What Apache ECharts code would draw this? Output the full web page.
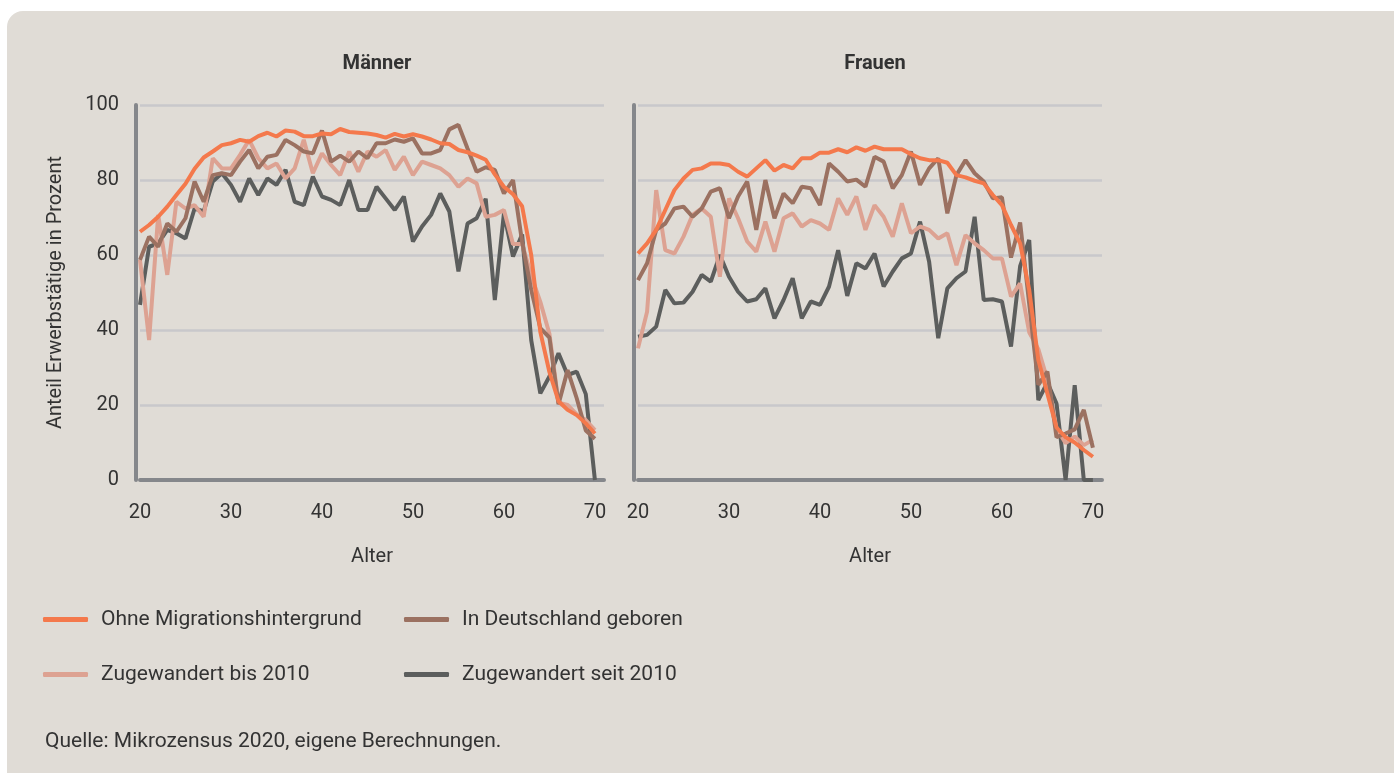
<!DOCTYPE html>
<html>
<head>
<meta charset="utf-8">
<script src="https://cdn.jsdelivr.net/npm/echarts@6/dist/echarts.min.js"></script>
<style>
	html, body { margin: 0; padding: 0; background: #ffffff; overflow: hidden; }
	#card { position: absolute; left: 7px; top: 11px; width: 1420px; height: 800px; background: #e0dcd6; border-radius: 16px; }
	#main { position: absolute; left: 0; top: 0; width: 1394px; height: 773px; }
</style>
</head>
<body>
<div id="card"></div>
<div id="main"></div>
<script>
	// Alter 20 .. 70
	var ages = [];
	for (var a = 20; a <= 70; a++) ages.push(a);
	var xTicks = [20, 30, 40, 50, 60, 70];
	var yTicks = [0, 20, 40, 60, 80, 100];

	// Männer
	var ohneM = [66.2, 68, 70.2, 72.9, 76, 79, 83, 86, 87.6, 89.3, 89.8, 90.7, 90.2, 91.7, 92.6, 91.6, 93.2, 92.9, 91.7, 91.7,
		92.4, 92.2, 93.6, 92.8, 92.6, 92.4, 92, 91.3, 92.3, 91.6, 92.2, 91.6, 90.8, 89.8, 89.6, 88, 87.4, 86.5, 85.4, 81.5,
		78.2, 76.2, 73, 60, 39.5, 28.8, 21, 18.7, 17.3, 15.1, 12.4];
	var deM = [58.7, 64.9, 62.2, 68.4, 66.2, 69.8, 79.6, 74.2, 81.3, 81.8, 81.3, 84.9, 88, 83.1, 86.2, 86.7, 90.7, 89.3, 87.6, 87.1,
		93.2, 84.9, 86.5, 84.9, 87.6, 85.8, 89.8, 89.8, 90.8, 90.2, 91.1, 87.1, 87.1, 88, 93.5, 94.7, 88.4, 82.2, 83.4, 82.7,
		76.4, 80, 63.5, 50.7, 40.5, 38, 20.2, 29.3, 21.8, 13.2, 11];
	var bisM = [58.7, 37.3, 70.7, 54.7, 74.2, 72.4, 73.3, 70.2, 85.8, 83.1, 83.1, 86.7, 90.7, 85.8, 83.1, 84.4, 80.4, 83.1, 90.7, 81.8,
		87.1, 84, 81.3, 87.6, 82.2, 87.6, 86.2, 88, 82.7, 86.2, 81.3, 84.9, 84, 83.1, 81.3, 78.2, 80.4, 79.1, 70.2, 70.7,
		72, 62.9, 63, 54.5, 47.5, 39, 20.6, 20, 17.5, 16, 13.3];
	var seitM = [46.7, 62.2, 63.1, 66.7, 65.8, 64.4, 72.4, 71.6, 79.6, 81.8, 78.7, 74.2, 80.4, 76, 80.4, 78.7, 82.7, 74.2, 73.3, 80.9,
		75.6, 74.7, 73.3, 80, 72, 72, 78.2, 75.1, 72, 75.6, 63.6, 67.6, 70.7, 76.4, 71.6, 55.6, 68.4, 69.8, 75, 48,
		71.1, 59.6, 65.5, 37.3, 23.1, 27.6, 33.8, 28, 28.9, 22.9, 0];

	// Frauen
	var ohneF = [60.4, 63.1, 66.7, 72, 77.3, 80.4, 82.7, 83.1, 84.4, 84.4, 84, 82.2, 80.9, 83.1, 85.3, 82.5, 84, 83.1, 85.8, 85.8,
		87.3, 87.3, 88.2, 87.4, 88.7, 87.8, 88.9, 88.2, 88.2, 88.2, 86.9, 85.8, 85.3, 85.3, 84.6, 81.3, 80.7, 79.8, 79.1, 76,
		73.3, 68, 63.1, 50.7, 32, 23, 14, 11.4, 10, 8, 6.2];
	var deF = [53.3, 57.8, 66.7, 68.4, 72.4, 72.9, 70.2, 72.4, 76.9, 77.8, 69.8, 75.6, 79.6, 66.7, 80, 69.8, 76.4, 73.8, 78.2, 77.8,
		73.3, 84.4, 82.2, 79.6, 80.1, 78.2, 86.2, 84.9, 77.8, 81.3, 87.6, 78.7, 83.1, 85.8, 71.1, 81.3, 85.3, 81.8, 79.6, 75.1,
		75.4, 59.3, 68.7, 47, 25.4, 28.9, 11.4, 12.4, 13.5, 18.7, 8.6];
	var bisF = [35.1, 44.9, 77.3, 61.3, 60.4, 64.9, 70.7, 72.4, 70.2, 54.2, 75.1, 69.8, 63.6, 60.9, 68.9, 60.9, 69.8, 71.1, 67.6, 69.3,
		68.4, 66.7, 75.1, 70.7, 75.6, 66.7, 73.3, 70.2, 64.9, 73.8, 65.8, 67.6, 66.7, 64.4, 65.8, 57.3, 65.3, 63.1, 61.3, 59.1,
		59.1, 48.9, 52.4, 39.4, 34.9, 26.7, 13.8, 9.8, 11.6, 9.3, 10.7];
	var seitF = [38.2, 38.7, 40.9, 50.7, 47.1, 47.3, 50.2, 54.7, 52.9, 60, 54.2, 50.2, 47.6, 48.2, 51.1, 43.1, 48, 53.8, 43.1, 47.6,
		46.7, 51.6, 61.3, 49.1, 57.8, 56.4, 60.4, 51.6, 55.6, 59.1, 60.4, 68.9, 58.2, 37.8, 51.1, 53.8, 55.6, 70.2, 48, 48.2,
		47.6, 35.6, 57, 64, 21.3, 26, 20.4, 0, 25.3, 0, 0];

	var names = ["Ohne Migrationshintergrund", "In Deutschland geboren", "Zugewandert bis 2010", "Zugewandert seit 2010"];
	var colors = ["#f4794c", "#9b7161", "#dda292", "#5c5e5d"];

	var font = "Roboto";
	var textColor = "#333333";
	var axisColor = "#85878b";

	function pairs(values) {
		return ages.map(function (age, i) {
			return [age, values[i]];
		});
	}

	function makeX(idx) {
		return {
			gridIndex: idx,
			type: "value",
			min: xTicks[0],
			max: 71,
			interval: 10,
			name: "Alter",
			nameLocation: "middle",
			nameGap: 67,
			nameTextStyle: { fontFamily: font, fontSize: 20, color: textColor },
			axisLine: { show: true, lineStyle: { color: axisColor, width: 4 } },
			axisTick: { show: false },
			splitLine: { show: false },
			axisLabel: {
				showMaxLabel: false,
				margin: 23,
				fontFamily: font,
				fontSize: 20,
				color: textColor,
			},
		};
	}

	function makeY(idx) {
		return {
			gridIndex: idx,
			type: "value",
			min: yTicks[0],
			max: yTicks[yTicks.length - 1],
			interval: 20,
			offset: 4,
			name: idx === 0 ? "Anteil Erwerbstätige in Prozent" : "",
			nameLocation: "middle",
			nameGap: 70,
			nameTextStyle: { fontFamily: font, fontSize: 20, color: textColor },
			axisLine: { show: true, lineStyle: { color: axisColor, width: 4 } },
			axisTick: { show: false },
			splitLine: { show: true, lineStyle: { color: "#c9c8cb", width: 2.5 } },
			axisLabel: {
				show: idx === 0,
				margin: 17,
				fontFamily: font,
				fontSize: 20,
				color: textColor,
			},
		};
	}

	var panels = [
		[ohneM, deM, bisM, seitM],
		[ohneF, deF, bisF, seitF],
	];

	var series = [];
	panels.forEach(function (panel, p) {
		// gray first so orange is drawn on top
		for (var k = 3; k >= 0; k--) {
			series.push({
				name: names[k],
				type: "line",
				xAxisIndex: p,
				yAxisIndex: p,
				data: pairs(panel[k]),
				symbol: "none",
				color: colors[k],
				lineStyle: { width: 4, color: colors[k] },
				z: 10 - k,
				animation: false,
			});
		}
	});

	function makeLegend(k, left, top) {
		return {
			data: [names[k]],
			left: left,
			top: top,
			padding: 0,
			icon: "roundRect",
			itemWidth: 45,
			itemHeight: 5,
			selectedMode: false,
			textStyle: { fontFamily: font, fontSize: 21, color: textColor, padding: [0, 0, 0, 8] },
		};
	}

	var option = {
		backgroundColor: "transparent",
		animation: false,
		title: [
			{ text: "Männer", left: 372, top: 49, textAlign: "center", textStyle: { fontFamily: font, fontSize: 20, fontWeight: "bold", color: textColor } },
			{ text: "Frauen", left: 870, top: 49, textAlign: "center", textStyle: { fontFamily: font, fontSize: 20, fontWeight: "bold", color: textColor } },
		],
		legend: [
			makeLegend(0, 43, 609),
			makeLegend(1, 404, 609),
			makeLegend(2, 43, 664),
			makeLegend(3, 404, 664),
		],
		grid: [
			{ left: 140, top: 105, width: 464, height: 375 },
			{ left: 638, top: 105, width: 464, height: 375 },
		],
		xAxis: [makeX(0), makeX(1)],
		yAxis: [makeY(0), makeY(1)],
		series: series,
		graphic: [
			{
				type: "text",
				left: 45,
				top: 731,
				style: { text: "Quelle: Mikrozensus 2020, eigene Berechnungen.", font: "21px " + font, fill: textColor },
			},
		],
	};

	var myChart = echarts.init(document.getElementById("main"));
	myChart.setOption(option);
</script>
</body>
</html>
